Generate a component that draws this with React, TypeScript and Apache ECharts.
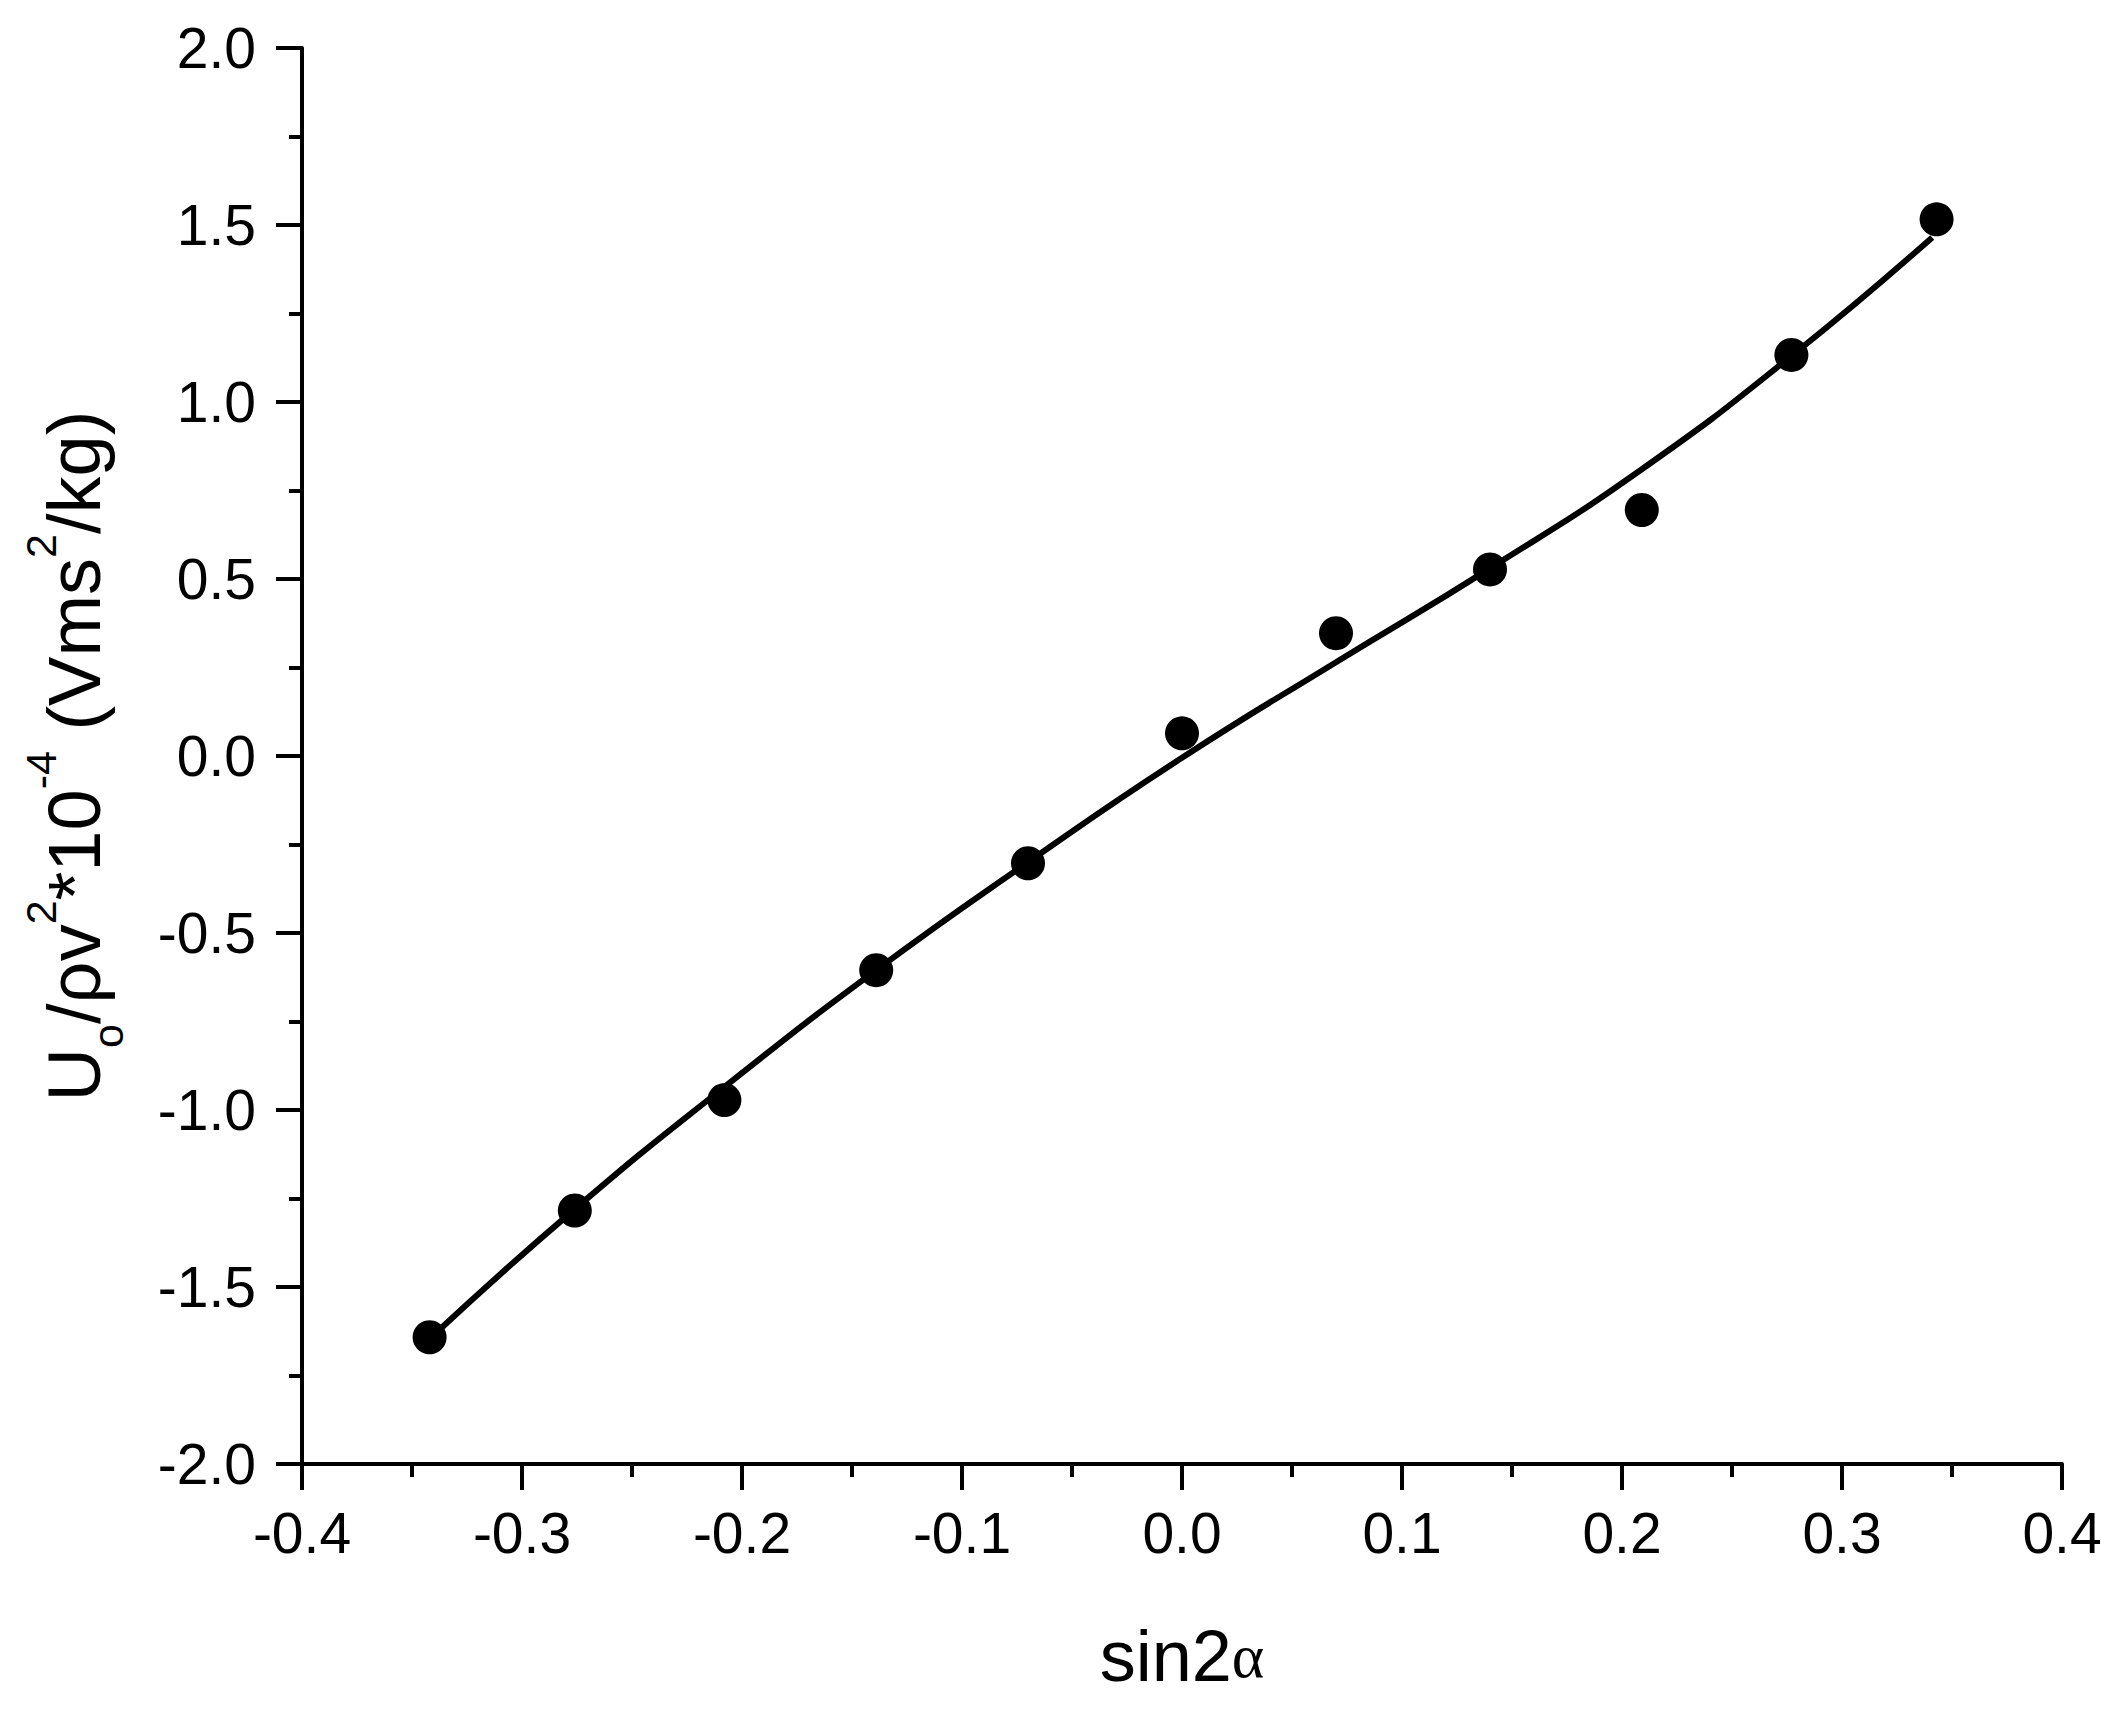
import React, { useEffect, useRef } from "react";
import * as echarts from "echarts";

// sin2α values of the measurements
const sin2a = [-0.342, -0.276, -0.208, -0.139, -0.07, 0.0, 0.07, 0.14, 0.209, 0.277, 0.343];
// measured U_o/ρv² *10^-4
const measured = [-1.642, -1.284, -0.972, -0.605, -0.303, 0.064, 0.347, 0.527, 0.695, 1.133, 1.516];
// fitted curve
const fitX = [-0.34, -0.276, -0.208, -0.139, -0.07, 0.0, 0.07, 0.14, 0.209, 0.277, 0.341];
const fitY = [-1.635, -1.28, -0.935, -0.605, -0.3, -0.005, 0.265, 0.53, 0.81, 1.13, 1.465];

const xMin = -0.4;
const xMax = 0.4;
const xStep = 0.1;
const yMin = -2.0;
const yMax = 2.0;
const yStep = 0.5;

const SANS = "'Liberation Sans', Arial, sans-serif";
const SERIF = "'Liberation Serif', 'Times New Roman', serif";

export default function App() {
  const ref = useRef<HTMLDivElement>(null);

  useEffect(() => {
    if (!ref.current) return;
    const chart = echarts.init(ref.current, undefined, { renderer: "svg" });
    const axisCommon = {
      axisLine: { show: true, onZero: false, lineStyle: { color: "#000", width: 4 } },
      axisTick: { show: true, inside: false, length: 26, lineStyle: { color: "#000", width: 4 } },
      minorTick: { show: true, splitNumber: 2, length: 13, lineStyle: { color: "#000", width: 4 } },
      splitLine: { show: false },
      minorSplitLine: { show: false },
    };
    chart.setOption({
      animation: false,
      backgroundColor: "#fff",
      grid: { left: 302, right: 60, top: 48, bottom: 246, containLabel: false },
      xAxis: {
        type: "value",
        min: xMin,
        max: xMax,
        interval: xStep,
        ...axisCommon,
        axisLabel: {
          color: "#000",
          fontSize: 57,
          fontFamily: SANS,
          margin: 40,
          formatter: (v: number) => v.toFixed(1),
        },
        name: "{a|sin2}{b|α}",
        nameLocation: "middle",
        nameGap: 156,
        nameTextStyle: {
          rich: {
            a: { fontSize: 72, fontFamily: SANS, color: "#000" },
            b: { fontSize: 62, fontFamily: SERIF, color: "#000" },
          },
        },
      },
      yAxis: {
        type: "value",
        min: yMin,
        max: yMax,
        interval: yStep,
        ...axisCommon,
        axisLabel: {
          color: "#000",
          fontSize: 57,
          fontFamily: SANS,
          margin: 46,
          formatter: (v: number) => v.toFixed(1),
        },
        name: "{n|U}{sub|o}{n|/ρv}{sup|2}{n|*10}{sup|-4}{n| (Vms}{sup|2}{n|/kg)}",
        nameLocation: "middle",
        nameRotate: 90,
        nameGap: 173,
        nameTextStyle: {
          rich: {
            n: { fontSize: 74, fontFamily: SANS, color: "#000", lineHeight: 110, verticalAlign: "middle" },
            sup: { fontSize: 43, fontFamily: SANS, color: "#000", lineHeight: 60, verticalAlign: "top" },
            sub: { fontSize: 43, fontFamily: SANS, color: "#000", lineHeight: 50, verticalAlign: "bottom" },
          },
        },
      },
      series: [
        {
          type: "line",
          data: fitX.map((x, i) => [x, fitY[i]]),
          smooth: 0.5,
          showSymbol: false,
          symbol: "none",
          lineStyle: { color: "#000", width: 6 },
          z: 2,
        },
        {
          type: "scatter",
          data: sin2a.map((x, i) => [x, measured[i]]),
          symbol: "circle",
          symbolSize: 34,
          itemStyle: { color: "#000", opacity: 1 },
          z: 3,
        },
      ],
    });
    return () => chart.dispose();
  }, []);

  return (
    <div
      ref={ref}
      style={{ position: "absolute", left: 0, top: 0, width: 2122, height: 1710, background: "#fff" }}
    />
  );
}
